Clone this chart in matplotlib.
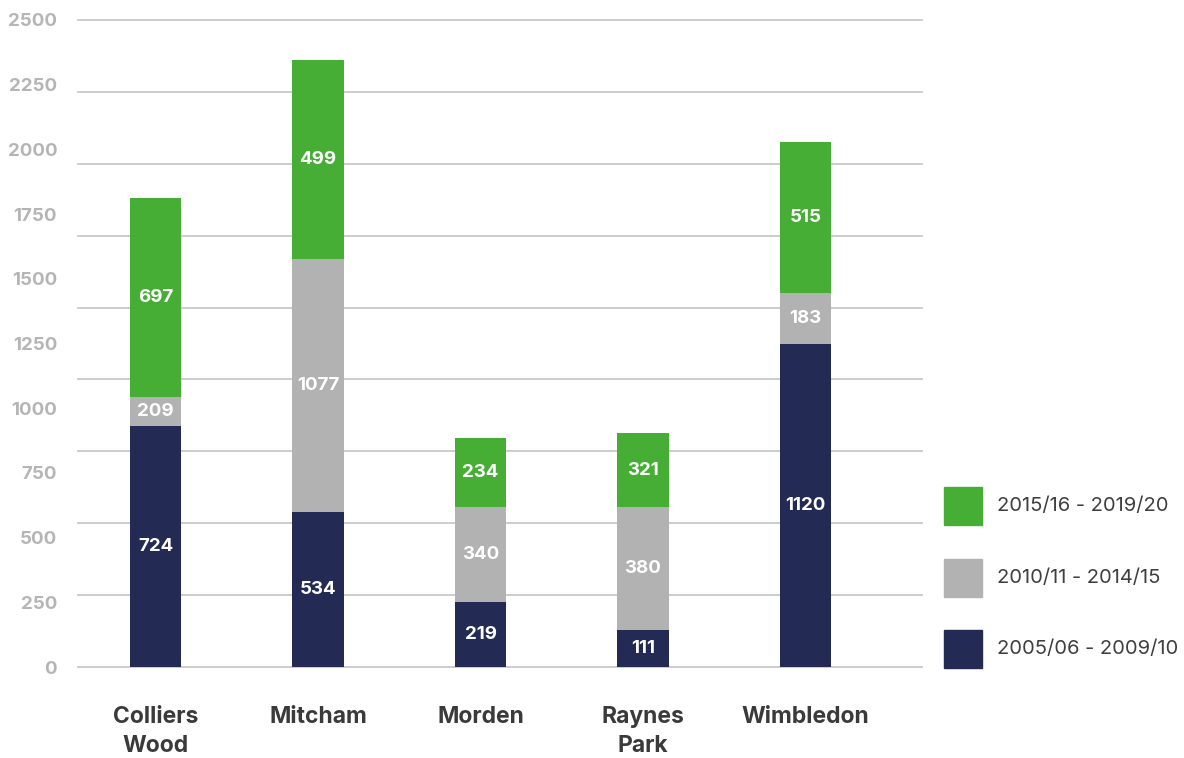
import numpy as np
import matplotlib
matplotlib.use("Agg")
import matplotlib.pyplot as plt
from matplotlib.patches import Rectangle

plt.rcParams['font.family'] = ['Inter', 'DejaVu Sans']

# Data (bar heights as drawn on the axis, labels as printed on the chart)
areas = ["Colliers\nWood", "Mitcham", "Morden", "Raynes\nPark", "Wimbledon"]
series_names = ["2005/06 - 2009/10", "2010/11 - 2014/15", "2015/16 - 2019/20"]
h_0510 = [931, 599, 251, 143, 1248]
h_1015 = [112, 978, 367, 475, 197]
h_1520 = [769, 769, 267, 286, 583]
lab_0510 = [724, 534, 219, 111, 1120]
lab_1015 = [209, 1077, 340, 380, 183]
lab_1520 = [697, 499, 234, 321, 515]
yticks = [0, 250, 500, 750, 1000, 1250, 1500, 1750, 2000, 2250, 2500]

colors = ["#232B55", "#B2B2B2", "#46AE34"]
heights = [h_0510, h_1015, h_1520]
labels = [lab_0510, lab_1015, lab_1520]

W, H = 1184, 758
fig = plt.figure(figsize=(W / 100, H / 100), dpi=100)
ax = fig.add_axes([78 / W, 1 - 667 / H, (922 - 78) / W, (667 - 20) / H])

x = np.arange(len(areas))
bottom = np.zeros(len(areas))
for h, lab, c in zip(heights, labels, colors):
    h = np.array(h, dtype=float)
    ax.bar(x, h, bottom=bottom, width=0.314, color=c, zorder=3)
    for xi, b, hi, t in zip(x, bottom, h, lab):
        ax.text(xi, b + hi / 2, str(t), ha="center", va="center",
                color="white", fontsize=13.5, fontweight="bold", zorder=4)
    bottom += h

# gridlines (10 evenly spaced lines) independent of the tick labels
for g in np.linspace(0, 2500, 10):
    ax.axhline(g, color="#C8C8C8", lw=1.3, zorder=1, clip_on=False)

ax.set_xlim(-0.477, 4.717)
ax.set_ylim(0, 2500)
ax.set_yticks(yticks)
ax.set_yticklabels([str(v) for v in yticks], color="#B5B5B5",
                   fontsize=13.5, fontweight="bold")
ax.set_xticks(x)
ax.set_xticklabels(areas, color="#3A3A3A", fontsize=16.5,
                   fontweight="bold", va="top", linespacing=1.4)
ax.tick_params(axis="y", length=0, pad=15)
ax.tick_params(axis="x", length=0, pad=28)
for s in ax.spines.values():
    s.set_visible(False)

# legend, drawn on the right
leg_y = [649, 578, 506]
for name, c, yc in zip(series_names, colors, leg_y):
    fig.add_artist(Rectangle((944 / W, 1 - (yc + 19) / H), 38 / W, 38 / H,
                             transform=fig.transFigure, color=c))
    fig.text(997 / W, 1 - yc / H, name, ha="left", va="center",
             color="#3F3F3F", fontsize=14.5)

plt.savefig("out.png", dpi=100)
